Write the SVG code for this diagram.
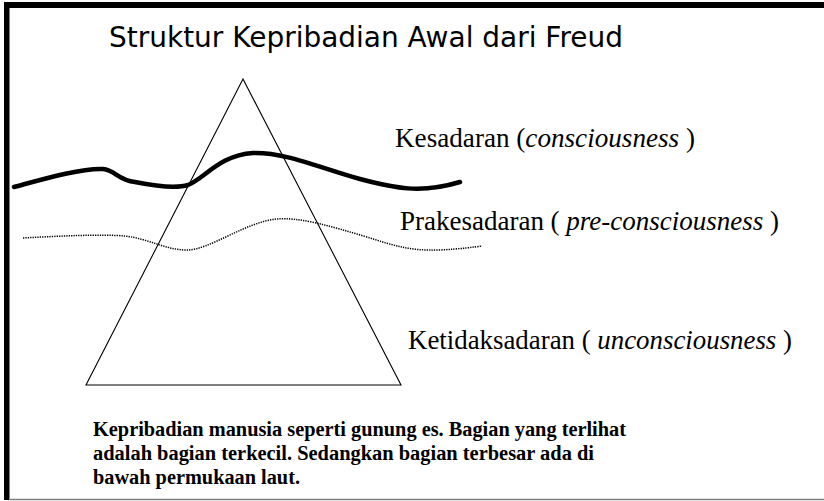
<svg xmlns="http://www.w3.org/2000/svg" width="824" height="501" viewBox="0 0 824 501">
<style>
.serif{font-family:"Liberation Serif","Times New Roman",serif;fill:#000}
.title{font-family:"DejaVu Sans","Verdana",sans-serif;font-size:29px;fill:#000}
.label{font-size:27px}
.note{font-size:20px;font-weight:bold}
.wave-thick{fill:none;stroke:#000;stroke-width:4.5;stroke-linecap:round}
.wave-dot{fill:none;stroke:#000;stroke-width:1.5;stroke-dasharray:1.3 1.1}
</style>
<rect x="0" y="0" width="824" height="501" fill="#fff"/>
<g id="frame">
<rect x="4" y="2" width="820" height="6" fill="#000"/>
<rect x="4" y="2" width="5.5" height="498" fill="#000"/>
<line x1="9" y1="499.5" x2="824" y2="499.5" stroke="#808080" stroke-width="1.5"/>
</g>
<g id="title">
<text class="title" x="109" y="47" textLength="514" lengthAdjust="spacingAndGlyphs">Struktur Kepribadian Awal dari Freud</text>
</g>
<g id="iceberg">
<polygon points="243,79 86,385 401,385" fill="none" stroke="#000" stroke-width="1.1"/>
</g>
<g id="connectors">
<path id="conscious-line" class="wave-thick" d="M14,187 C40,180 80,168 103,169 C115,170 118,180 135,182 C155,186 175,189 188,185 C205,178 220,155 253,153 C285,152 320,168 360,179 C395,188 420,194 460,182"/>
<path id="preconscious-line" class="wave-dot" d="M23,238 C60,236 100,234 125,236 C150,239 165,250 187,250 C210,250 245,222 277,219 C300,217 330,226 367,237 C395,246 410,251 440,250 C460,249 475,247 482,246"/>
</g>
<g id="kesadaran">
<text class="serif label" x="395" y="147" textLength="300" lengthAdjust="spacingAndGlyphs">Kesadaran (<tspan font-style="italic">consciousness</tspan> )</text>
</g>
<g id="prakesadaran">
<text class="serif label" x="400" y="230" textLength="379" lengthAdjust="spacingAndGlyphs">Prakesadaran ( <tspan font-style="italic">pre-consciousness</tspan> )</text>
</g>
<g id="ketidaksadaran">
<text class="serif label" x="408" y="349" textLength="384" lengthAdjust="spacingAndGlyphs">Ketidaksadaran ( <tspan font-style="italic">unconsciousness</tspan> )</text>
</g>
<g id="note">
<text class="serif note" x="93" y="436" textLength="533" lengthAdjust="spacingAndGlyphs">Kepribadian manusia seperti gunung es. Bagian yang terlihat</text>
<text class="serif note" x="93" y="460" textLength="501" lengthAdjust="spacingAndGlyphs">adalah bagian terkecil. Sedangkan bagian terbesar ada di</text>
<text class="serif note" x="93" y="484" textLength="207" lengthAdjust="spacingAndGlyphs">bawah permukaan laut.</text>
</g>
</svg>
